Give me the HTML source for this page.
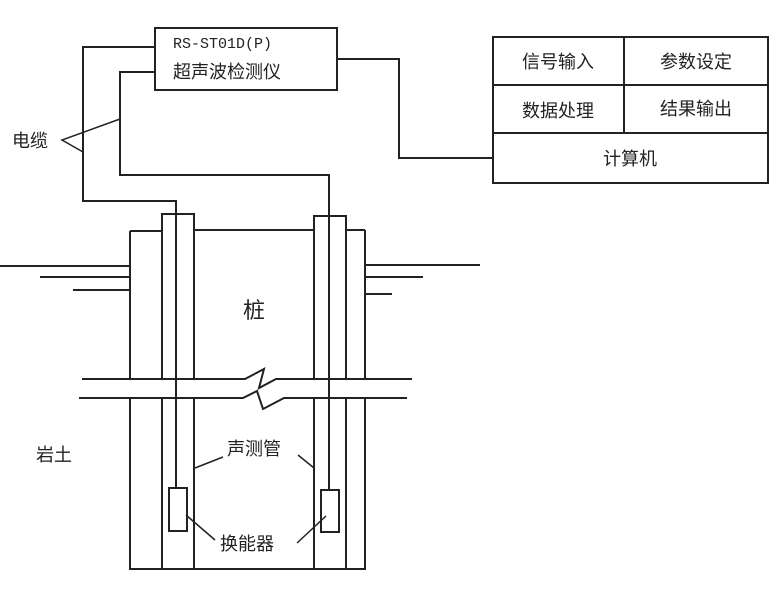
<!DOCTYPE html>
<html><head><meta charset="utf-8"><style>
html,body{margin:0;padding:0;background:#fff;}
svg text{font-family:"Liberation Sans","Noto Sans CJK SC",sans-serif;fill:#222;}
</style></head><body>
<svg width="780" height="585" viewBox="0 0 780 585" xmlns="http://www.w3.org/2000/svg">
<g stroke="#222" stroke-width="2" fill="none">
<rect x="155" y="28" width="182" height="62"/>
<polyline points="155,47 83,47 83,201 176,201 176,488"/>
<polyline points="155,72 120,72 120,175 329,175 329,490"/>
<polyline points="337,59 399,59 399,158 493,158"/>
<polyline points="120,119 62,140 83,152" stroke-width="1.5"/>
<rect x="493" y="37" width="275" height="146"/>
<line x1="493" y1="85" x2="768" y2="85"/>
<line x1="493" y1="133" x2="768" y2="133"/>
<line x1="624" y1="37" x2="624" y2="133"/>
<line x1="130" y1="231" x2="130" y2="379"/>
<line x1="130" y1="398" x2="130" y2="570"/>
<line x1="365" y1="230" x2="365" y2="379"/>
<line x1="365" y1="398" x2="365" y2="570"/>
<line x1="130" y1="231" x2="162" y2="231"/>
<line x1="194" y1="230" x2="314" y2="230"/>
<line x1="346" y1="230" x2="365" y2="230"/>
<line x1="130" y1="569" x2="365" y2="569"/>
<polyline points="162,379 162,214 194,214 194,379"/>
<polyline points="162,398 162,569"/>
<polyline points="194,398 194,569"/>
<polyline points="314,379 314,216 346,216 346,379"/>
<polyline points="314,398 314,569"/>
<polyline points="346,398 346,569"/>
<line x1="0" y1="266" x2="130" y2="266"/>
<line x1="40" y1="277" x2="130" y2="277"/>
<line x1="73" y1="290" x2="130" y2="290"/>
<line x1="365" y1="265" x2="480" y2="265"/>
<line x1="365" y1="277" x2="423" y2="277"/>
<line x1="365" y1="294" x2="392" y2="294"/>
<polyline points="82,379 245,379 264,369 259,388 276,379 412,379"/>
<polyline points="79,398 243,398 257,391 263,409 284,398 407,398"/>
<rect x="169" y="488" width="18" height="43"/>
<rect x="321" y="490" width="18" height="42"/>
<line x1="223" y1="457" x2="195" y2="468" stroke-width="1.5"/>
<line x1="298" y1="455" x2="314" y2="468" stroke-width="1.5"/>
<line x1="215" y1="540" x2="186" y2="515" stroke-width="1.5"/>
<line x1="297" y1="543" x2="326" y2="516" stroke-width="1.5"/>
</g>
<text x="173" y="48" font-size="15" style="font-family:'Liberation Mono',monospace;font-weight:normal">RS-ST01D(P)</text>
<text x="173" y="78" font-size="18">超声波检测仪</text>
<text x="12" y="147" font-size="18">电缆</text>
<text x="558" y="68" font-size="18" text-anchor="middle">信号输入</text>
<text x="696" y="68" font-size="18" text-anchor="middle">参数设定</text>
<text x="558" y="117" font-size="18" text-anchor="middle">数据处理</text>
<text x="696" y="115" font-size="18" text-anchor="middle">结果输出</text>
<text x="630" y="165" font-size="18" text-anchor="middle">计算机</text>
<text x="243" y="318" font-size="22">桩</text>
<text x="36" y="461" font-size="18">岩土</text>
<text x="227" y="455" font-size="18">声测管</text>
<text x="220" y="550" font-size="18">换能器</text>
</svg>
</body></html>
